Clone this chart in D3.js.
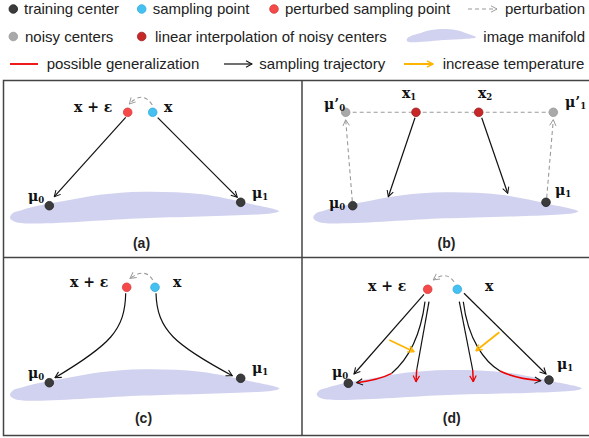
<!DOCTYPE html>
<html><head><meta charset="utf-8">
<script src="https://cdn.jsdelivr.net/npm/d3@7"></script>
<style>body{margin:0;background:#fff}svg{display:block}</style>
</head><body><svg id="c" width="589" height="438"></svg>
<script>
// ---------------- data ----------------
const legendLabels = ["training center","sampling point","perturbed sampling point","perturbation",
  "noisy centers","linear interpolation of noisy centers","image manifold",
  "possible generalization","sampling trajectory","increase temperature"];
const legendKinds = ["center","samp","pert","dash","noisy","interp","manifold","redline","arrow","orange"];
const legendRow = [0,0,0,0,1,1,1,2,2,2];
const legendSymX = [13.3,141.7,274,468,13.3,141.7,406.7,10,224,404];
const legendTextX = [24,152.7,285,505,25,155,483.3,46.7,259.3,442.7];

const panelLabels = ["(a)","(b)","(c)","(d)"];
const panelLabelPos = [[138,167.5],[144.5,167.5],[140,165.5],[149.7,165.5]];

// manifold profile (u along width 0..1, v 0 = crest, 1 = lowest left edge)
const manifoldU = [0.012,0.04,0.0866,0.2108,0.3346,0.4944,0.7063,0.8922,1.0,0.99,0.4944,0.02,0.0];
const manifoldV = [0.70,0.62,0.50,0.29,0.10,0.0,0.08,0.40,0.64,0.69,0.88,1.0,0.86];
// per panel manifold frame: x-left, x-right, crest y, base y (panel units)
const manifoldFrames = [[6.5,275.5,111.2,141.4],[11.3,276.3,111.8,141.4],[6.5,275.8,111.8,141.7],[14.7,279.7,112.5,141.0]];

// panel (a)
const aDots = [["pert",124.2,31.8],["samp",149.2,31.8],["center",45.8,125.2],["center",237.2,121.8]];
const aArrows = [[[122.2,36.8],[50.8,116.2]],[[154.2,37.2],[233.8,116.8]]];
const aTexts = [["x + ε","",70.5,31.5],["x","",160.5,31.5],["μ","0",24.5,120.5],["μ","1",248.5,117.5]];
const aPerturb = [[148.8,24.5],[139.1,9.6],[125.8,23.5]];

// panel (b)
const bDots = [["noisy",43.7,31.8],["interp",114,31.8],["interp",176.7,31.8],["noisy",251.3,31.8],["center",50.7,125.2],["center",244,121.8]];
const bDashLine = [[43.7,31.8],[251.3,31.8]];
const bDashArrows = [[[50.3,120.6],[43.7,39.2]],[[244.7,117.2],[251.3,39.2]]];
const bArrows = [[[113,37.2],[86.3,116.2]],[[179.7,37.2],[205.7,112.8]]];
const bTexts = [["μ’","0",22,28.5],["x","1",100,17.8],["x","2",176,17.8],["μ’","1",263,26.5],["μ","0",27,127.8],["μ","1",253,114.5]];

// panel (c)
const cDots = [["pert",123.2,29.8],["samp",151.5,29.8],["center",45.8,125.2],["center",237.2,120.8]];
const cCurves = [[[122.2,35.8],[121.5,72.5],[106.5,87.5],[51.5,120.2]],[[152.5,35.8],[153.5,72.5],[171.5,87.5],[228.8,118.2]]];
const cTexts = [["x + ε","",66.5,29.8],["x","",169.5,29.8],["μ","0",24.5,120],["μ","1",248.5,115]];
const cPerturb = [[149.2,22.5],[141.75,9.95],[126.5,20.8]];

// panel (d)
const dDots = [["pert",125.7,31.8],["samp",155.3,31.8],["center",46.3,125.8],["center",247,122.5]];
const dArrows = [[[122,36.8],[52,116.5]],[[162,35.8],[244,116.5]]];
const dStraightBlack = [[[127,44.2],[114.7,112.5]],[[157.3,44.2],[170.7,112.5]]];
const dStraightRed = [[[114.7,112.5],[114,124.2]],[[170.7,112.5],[171.3,124.2]]];
const dCurveBlack = [[[123,44.2],[118,82.5],[103,104.5],[89.7,115.8]],[[161.3,44.2],[166,82.5],[183,104.5],[198,113.5]]];
const dCurveRed = [[[89.7,115.8],[78,122],[54.7,125.2]],[[198,113.5],[213,121],[238.7,123.2]]];
const dOrange = [[[87.3,82.5],[112,94.2]],[[197.3,74.8],[174,93.2]]];
const dTexts = [["x + ε","",66,33.5],["x","",183,33.5],["μ","0",30,119],["μ","1",255,111.8]];
const dPerturb = [[152,24.2],[144.35,13.05],[131.3,22.5]];

// ---------------- styles ----------------
const dotStyle = {
  center:{fill:"#3b3b3b",stroke:"#222"},
  samp:{fill:"#45c1f1",stroke:"#35a9d9"},
  pert:{fill:"#f44a4a",stroke:"#d93a3a"},
  noisy:{fill:"#a9a9a9",stroke:"#999"},
  interp:{fill:"#c62828",stroke:"#9f1d1d"}
};
const C = {black:"#111",red:"#ee0000",gray:"#9a9a9a",orange:"#ffb400",manifold:"#d1d2ef",border:"#444"};
const serif = "'DejaVu Serif', serif";
const sans = "Arial, 'Liberation Sans', sans-serif";

const svg = d3.select("#c");
const defs = svg.append("defs");
function marker(id,color,sw){
  defs.append("marker").attr("id",id).attr("viewBox","0 0 10 10").attr("refX",9).attr("refY",5)
    .attr("markerWidth",8).attr("markerHeight",8).attr("markerUnits","userSpaceOnUse").attr("orient","auto")
    .append("path").attr("d","M1.5,1 L9,5 L1.5,9").attr("fill","none").attr("stroke",color).attr("stroke-width",sw||1.3);
}
marker("mBlack",C.black,1.3); marker("mRed",C.red,1.5); marker("mGray",C.gray,1.2); marker("mOrange",C.orange,1.8);

// ---------------- legend ----------------
const legendY = d3.scaleOrdinal().domain([0,1,2]).range([9,36.5,64]);
const lg = svg.append("g");
legendLabels.forEach((lab,i)=>{
  const y = legendY(legendRow[i]), x = legendSymX[i], k = legendKinds[i];
  if (dotStyle[k]) {
    lg.append("circle").attr("cx",x).attr("cy",y).attr("r",4.3).attr("fill",dotStyle[k].fill).attr("stroke",dotStyle[k].stroke).attr("stroke-width",0.8);
  } else if (k==="dash") {
    lg.append("line").attr("x1",x).attr("y1",y).attr("x2",x+29).attr("y2",y).attr("stroke",C.gray).attr("stroke-width",1.2).attr("stroke-dasharray","4,3").attr("marker-end","url(#mGray)");
  } else if (k==="redline") {
    lg.append("line").attr("x1",x).attr("y1",y).attr("x2",x+28).attr("y2",y).attr("stroke",C.red).attr("stroke-width",1.8);
  } else if (k==="arrow") {
    lg.append("line").attr("x1",x).attr("y1",y).attr("x2",x+28).attr("y2",y).attr("stroke",C.black).attr("stroke-width",1.2).attr("marker-end","url(#mBlack)");
  } else if (k==="orange") {
    lg.append("line").attr("x1",x).attr("y1",y).attr("x2",x+29).attr("y2",y).attr("stroke",C.orange).attr("stroke-width",2).attr("marker-end","url(#mOrange)");
  } else if (k==="manifold") {
    const sx = d3.scaleLinear().domain([0,1]).range([x,x+69.3]);
    const sy = d3.scaleLinear().domain([0,1]).range([y-7.5,y+5.2]);
    const pts = manifoldU.map((u,j)=>[sx(u),sy(manifoldV[j])]);
    lg.append("path").attr("d",d3.line().curve(d3.curveCatmullRomClosed)(pts)).attr("fill",C.manifold);
  }
  lg.append("text").attr("x",legendTextX[i]).attr("y",y+5.2).text(lab)
    .attr("font-family",sans).attr("font-size",15).attr("fill","#222");
});

// ---------------- panels ----------------
const panelOrigins = [[3.5,80.5],[302,80.5],[3.5,257.5],[302,257.5]];
const panelSize = [298.5,177];

// borders
svg.append("rect").attr("x",3.5).attr("y",80.5).attr("width",600).attr("height",355).attr("fill","none").attr("stroke",C.border).attr("stroke-width",1.5);
svg.append("line").attr("x1",302).attr("x2",302).attr("y1",80.5).attr("y2",435.5).attr("stroke",C.border).attr("stroke-width",1.5);
svg.append("line").attr("x1",3.5).attr("x2",589).attr("y1",257.5).attr("y2",257.5).attr("stroke",C.border).attr("stroke-width",1.5);

function panel(i){
  const [ox,oy] = panelOrigins[i];
  const x = d3.scaleLinear().domain([0,panelSize[0]]).range([ox,ox+panelSize[0]]);
  const y = d3.scaleLinear().domain([0,panelSize[1]]).range([oy,oy+panelSize[1]]);
  const g = svg.append("g");
  const P = p=>[x(p[0]),y(p[1])];
  // manifold
  const f = manifoldFrames[i];
  const mu = d3.scaleLinear().domain([0,1]).range([f[0],f[1]]);
  const mv = d3.scaleLinear().domain([0,1]).range([f[2],f[3]]);
  const pts = manifoldU.map((u,j)=>[x(mu(u)),y(mv(manifoldV[j]))]);
  g.append("path").attr("d",d3.line().curve(d3.curveCatmullRomClosed)(pts)).attr("fill",C.manifold);
  // label
  g.append("text").attr("x",x(panelLabelPos[i][0])).attr("y",y(panelLabelPos[i][1])).attr("text-anchor","middle")
    .attr("font-family",sans).attr("font-weight","bold").attr("font-size",14).attr("fill","#222").text(panelLabels[i]);
  return {g,x,y,P};
}
function straight(ctx,segs,color,marker,w){
  segs.forEach(s=>{
    const a=ctx.P(s[0]), b=ctx.P(s[1]);
    const l = ctx.g.append("line").attr("x1",a[0]).attr("y1",a[1]).attr("x2",b[0]).attr("y2",b[1])
      .attr("stroke",color).attr("stroke-width",w||1.2);
    if (marker) l.attr("marker-end",`url(#${marker})`);
  });
}
function cubic(ctx,curves,color,marker,w){
  curves.forEach(c=>{
    const p=c.map(ctx.P); const path=d3.path();
    path.moveTo(...p[0]); path.bezierCurveTo(...p[1],...p[2],...p[3]);
    const e=ctx.g.append("path").attr("d",path.toString()).attr("fill","none").attr("stroke",color).attr("stroke-width",w||1.2);
    if (marker) e.attr("marker-end",`url(#${marker})`);
  });
}
function quad(ctx,curves,color,marker,w){
  curves.forEach(c=>{
    const p=c.map(ctx.P); const path=d3.path();
    path.moveTo(...p[0]); path.quadraticCurveTo(...p[1],...p[2]);
    const e=ctx.g.append("path").attr("d",path.toString()).attr("fill","none").attr("stroke",color).attr("stroke-width",w||1.2);
    if (marker) e.attr("marker-end",`url(#${marker})`);
  });
}
function perturb(ctx,arc){
  const p=arc.map(ctx.P); const path=d3.path();
  path.moveTo(...p[0]); path.quadraticCurveTo(...p[1],...p[2]);
  ctx.g.append("path").attr("d",path.toString()).attr("fill","none").attr("stroke",C.gray).attr("stroke-width",1.1)
    .attr("stroke-dasharray","4,3").attr("marker-end","url(#mGray)");
}
function dots(ctx,ds){
  ds.forEach(d=>{
    const s=dotStyle[d[0]];
    ctx.g.append("circle").attr("cx",ctx.x(d[1])).attr("cy",ctx.y(d[2])).attr("r",4.3)
      .attr("fill",s.fill).attr("stroke",s.stroke).attr("stroke-width",0.8);
  });
}
function texts(ctx,ts){
  ts.forEach(t=>{
    const el = ctx.g.append("text").attr("x",ctx.x(t[2])).attr("y",ctx.y(t[3]))
      .attr("font-family",serif).attr("font-weight","bold").attr("font-size",14).attr("fill","#111");
    el.append("tspan").text(t[0]);
    if (t[1]) el.append("tspan").attr("font-size",8.5).attr("dy",2).text(t[1]);
  });
}

// (a)
const pa = panel(0);
straight(pa,aArrows,C.black,"mBlack");
perturb(pa,aPerturb); dots(pa,aDots); texts(pa,aTexts);
// (b)
const pb = panel(1);
straight(pb,[bDashLine],C.gray,null,1.1); pb.g.selectAll("line").attr("stroke-dasharray","4,3");
bDashArrows.forEach(s=>{
  const a=pb.P(s[0]), b=pb.P(s[1]);
  pb.g.append("line").attr("x1",a[0]).attr("y1",a[1]).attr("x2",b[0]).attr("y2",b[1]).attr("stroke",C.gray)
    .attr("stroke-width",1.1).attr("stroke-dasharray","4,3").attr("marker-end","url(#mGray)");
});
straight(pb,bArrows,C.black,"mBlack");
dots(pb,bDots); texts(pb,bTexts);
// (c)
const pc = panel(2);
cubic(pc,cCurves,C.black,"mBlack");
perturb(pc,cPerturb); dots(pc,cDots); texts(pc,cTexts);
// (d)
const pd = panel(3);
straight(pd,dArrows,C.black,"mBlack");
straight(pd,dStraightBlack,C.black,null);
straight(pd,dStraightRed,C.red,"mRed",1.5);
cubic(pd,dCurveBlack,C.black,null);
quad(pd,dCurveRed,C.red,"mBlack",1.5);
straight(pd,dOrange,C.orange,"mOrange",1.8);
perturb(pd,dPerturb); dots(pd,dDots); texts(pd,dTexts);
</script>
</body></html>
